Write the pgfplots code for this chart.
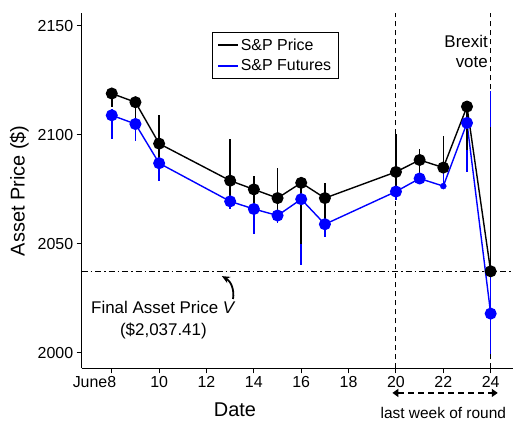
\documentclass[border=0pt]{standalone}
\usepackage{fontspec}
\setmainfont{Liberation Sans}
\usepackage{pgfplots}
\usepackage{pgfplotstable}
\pgfplotsset{compat=1.18}
\usetikzlibrary{arrows.meta}

\definecolor{futblue}{RGB}{0,0,255}

% day, value, error up, error down
\pgfplotstableread{
day  val      up    dn
8    2119     0     6
9    2115     0     8
10   2096     13    8
13   2079     19    9
14   2075     6     9
15   2071     14    8
16   2078     0     28
17   2071     7     12
20   2083     17.5  9
21   2088.5   5     8.5
22   2085     14.5  0
23   2113     0     20
24   2037.41  66    0
}\price

\pgfplotstableread{
day  val      up    dn
8    2109     3     11
9    2105     2     8
10   2087     17    8
13   2069.5   19    3.5
14   2066     0     11.5
15   2063     0     3.5
16   2070.5   0     30
17   2059     0     6
20   2074     0     4
21   2080     0     0
22   2076.5   8.5   0
23   2105.5   0     22.5
24   2018     102   18.5
}\futures

\begin{document}
\begin{tikzpicture}
\begin{axis}[
    at={(0,0)}, anchor=south west,
    scale only axis, width=431bp, height=355bp,
    xmin=6.73, xmax=24.93, ymin=1992.9, ymax=2155.8,
    axis x line=bottom, axis y line=left,
    axis line style={-, line width=1bp},
    xtick={8,10,...,24},
    xticklabels={\llap{June}8,10,12,14,16,18,20,22,24},
    ytick={2000,2050,2100,2150},
    tick align=outside, major tick length=5bp,
    tick style={black, line width=1bp},
    /pgf/number format/assume math mode=true,
    /pgf/number format/1000 sep={},
    ticklabel style={font=\fontsize{16}{19}\selectfont},
    clip=false,
    legend style={at={(rel axis cs:0.302,0.947)}, anchor=north west,
        draw=black, line width=0.8bp, text=black,
        font=\fontsize{16}{19}\selectfont,
        row sep=4bp, inner xsep=5bp, inner ysep=4bp},
    legend cell align=left,
    legend image code/.code={\draw[#1, line width=1.6bp] (0bp,0bp) -- (20bp,0bp);},
]
% reference lines
\draw[dash pattern=on 5bp off 4bp, line width=1bp] (axis cs:20,1992.9) -- (axis cs:20,2155.8);
\draw[dash pattern=on 5bp off 4bp, line width=1bp] (axis cs:24,1992.9) -- (axis cs:24,2155.8);
\draw[dash pattern=on 6bp off 3bp on 1.5bp off 3bp, line width=1.1bp]
    (axis cs:6.73,2037.41) -- (axis cs:24.93,2037.41);

% futures
\addplot[futblue, line width=1.4bp, mark=*, mark size=5.3bp, forget plot,
    mark indices={1,2,3,4,5,6,7,8,9,10,12,13},
    error bars/.cd, y dir=both, y explicit,
    error mark=none, error bar style={line width=1.5bp, futblue}]
    table[x=day, y=val, y error plus=up, y error minus=dn] {\futures};
\addplot[futblue, only marks, mark=*, mark size=3bp, forget plot] coordinates {(22,2076.5)};

% price
\addplot[black, line width=1.4bp, mark=*, mark size=5.3bp, forget plot,
    error bars/.cd, y dir=both, y explicit,
    error mark=none, error bar style={line width=1.5bp, black}]
    table[x=day, y=val, y error plus=up, y error minus=dn] {\price};

\addlegendimage{black}
\addlegendentry{S\&P Price}
\addlegendimage{futblue}
\addlegendentry{S\&P Futures}

% annotations
\node[anchor=north east, align=right, inner sep=0pt,
    font=\fontsize{17}{20}\selectfont] at (axis cs:23.886,2145.9) {Brexit\\vote};
\node[align=center, inner sep=0pt, font=\fontsize{17}{22}\selectfont]
    at (axis cs:10.18,2015) {Final Asset Price \textit{V}\\(\$2,037.41)};
\draw[-{Stealth[length=8bp, width=7bp]}, line width=1.8bp]
    (axis cs:13.12,2024.7) to[bend right=35] (axis cs:12.65,2035.2);

\draw[line width=2.6bp, dash pattern=on 6bp off 4bp,
    {Triangle[length=6bp, width=8bp]}-{Triangle[length=6bp, width=8bp]}]
    (axis cs:19.85,1981.6) -- (axis cs:24.3,1981.6);
\node[font=\fontsize{15.5}{18}\selectfont] at (axis cs:22,1972.6) {last week of round};

\node[font=\fontsize{20}{24}\selectfont] at (axis cs:13.2,1992.9) [yshift=-41bp] {Date};
\node[font=\fontsize{20}{24}\selectfont, xshift=-62.5bp, rotate=90] at (rel axis cs:0,0.5) {Asset Price (\$)};
\end{axis}
\pgfresetboundingbox
\path[use as bounding box] (-81.7bp,-54.7bp) rectangle (432.3bp,368.3bp);
\end{tikzpicture}
\end{document}
